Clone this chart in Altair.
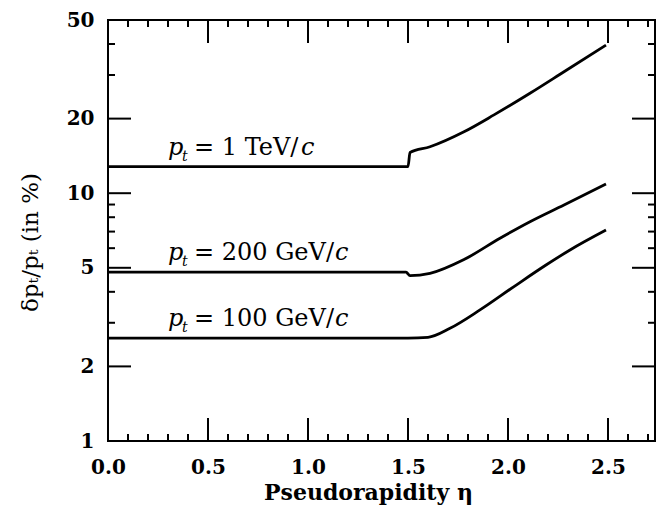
import altair as alt
import pandas as pd

# ---- data ----
eta_1tev = [0.0, 1.50, 1.51, 1.61, 1.78, 1.93, 2.11, 2.28, 2.49]
val_1tev = [12.8, 12.8, 14.6, 15.4, 17.7, 20.7, 25.3, 30.9, 39.6]
eta_200 = [0.0, 1.49, 1.51, 1.61, 1.78, 1.96, 2.11, 2.28, 2.49]
val_200 = [4.8, 4.8, 4.65, 4.75, 5.4, 6.58, 7.67, 8.96, 10.9]
eta_100 = [0.0, 1.50, 1.60, 1.71, 1.86, 2.03, 2.19, 2.31, 2.49]
val_100 = [2.6, 2.6, 2.62, 2.85, 3.38, 4.2, 5.13, 5.9, 7.1]

series_names = ["1 TeV", "200 GeV", "100 GeV"]
label_eta = [0.30, 0.30, 0.30]
label_val = [12.8, 4.8, 2.6]
label_mid = ["= 1 TeV/", "= 200 GeV/", "= 100 GeV/"]

x_labels = [0.0, 0.5, 1.0, 1.5, 2.0, 2.5]
x_major = [0.5, 1.0, 1.5, 2.0, 2.5]
x_minor = [0.1, 0.2, 0.3, 0.4, 0.6, 0.7, 0.8, 0.9, 1.1, 1.2, 1.3, 1.4,
           1.6, 1.7, 1.8, 1.9, 2.1, 2.2, 2.3, 2.4, 2.6, 2.7]
y_labels = [1, 2, 5, 10, 20, 50]
y_major = [2, 5, 10, 20]
y_minor = [3, 4, 6, 7, 8, 9, 30, 40]

# ---- build tables ----
rows = []
for name, xs_, vs_ in zip(series_names, [eta_1tev, eta_200, eta_100],
                          [val_1tev, val_200, val_100]):
    for i, (e, v) in enumerate(zip(xs_, vs_)):
        rows.append({"series": name, "idx": i, "eta": e, "val": v})
curves = pd.DataFrame(rows)
labels = pd.DataFrame({"series": series_names, "eta": label_eta,
                       "val": label_val, "mid": label_mid})

W, H = 547, 421
FONT = "DejaVu Serif"
xs = alt.Scale(domain=[0, 2.735], nice=False, zero=False)
ys = alt.Scale(type="log", domain=[1, 50], nice=False)

X_AXIS = alt.Axis(
    values=x_labels, format=".1f", ticks=False, domain=False, grid=False,
    labelFlush=False, labelFont=FONT, labelFontWeight="bold",
    labelFontSize=20, labelColor="black", labelPadding=16,
    title="Pseudorapidity  η", titleFont=FONT, titleFontWeight="bold",
    titleFontSize=22, titleColor="black", titlePadding=5, titleX=260)
Y_AXIS = alt.Axis(
    values=y_labels, format="d", ticks=False, domain=False, grid=False,
    labelFlush=False, labelFont=FONT, labelFontWeight="bold",
    labelFontSize=20, labelColor="black", labelPadding=14,
    title="δpₜ/pₜ  (in %)", titleFont=FONT, titleFontWeight="normal",
    titleFontSize=23, titleColor="black", titlePadding=24, titleY=222)

lines = alt.Chart(curves).mark_line(
    color="black", strokeWidth=2.8, interpolate="monotone"
).encode(
    x=alt.X("eta:Q", scale=xs, axis=X_AXIS),
    y=alt.Y("val:Q", scale=ys, axis=Y_AXIS),
    detail="series:N",
    order="idx:Q",
)


def xticks(vals, length):
    d = pd.DataFrame({"eta": vals})
    bot = alt.Chart(d).mark_rule(color="black", strokeWidth=2).encode(
        x=alt.X("eta:Q", scale=xs, axis=X_AXIS),
        y=alt.value(H), y2=alt.value(H - length))
    top = alt.Chart(d).mark_rule(color="black", strokeWidth=2).encode(
        x=alt.X("eta:Q", scale=xs, axis=X_AXIS),
        y=alt.value(0), y2=alt.value(length))
    return [bot, top]


def yticks(vals, length):
    d = pd.DataFrame({"val": vals})
    left = alt.Chart(d).mark_rule(color="black", strokeWidth=2).encode(
        y=alt.Y("val:Q", scale=ys, axis=Y_AXIS),
        x=alt.value(0), x2=alt.value(length))
    right = alt.Chart(d).mark_rule(color="black", strokeWidth=2).encode(
        y=alt.Y("val:Q", scale=ys, axis=Y_AXIS),
        x=alt.value(W), x2=alt.value(W - length))
    return [left, right]


tick_layers = (xticks(x_major, 23) + xticks(x_minor, 7)
               + yticks(y_major, 23) + yticks(y_minor, 7))

lab = alt.Chart(labels)
enc = dict(x=alt.X("eta:Q", scale=xs, axis=X_AXIS),
           y=alt.Y("val:Q", scale=ys, axis=Y_AXIS))
FS = 24
p_txt = lab.mark_text(font=FONT, fontStyle="italic", fontSize=FS, align="left",
                      baseline="alphabetic", dx=0, dy=-12, color="black"
                      ).encode(text=alt.value("p"), **enc)
t_txt = lab.mark_text(font=FONT, fontStyle="italic", fontSize=14, align="left",
                      baseline="alphabetic", dx=14, dy=-6, color="black"
                      ).encode(text=alt.value("t"), **enc)
mid_txt = lab.mark_text(font=FONT, fontSize=FS, align="left",
                        baseline="alphabetic", dx=26, dy=-12, color="black"
                        ).encode(text="mid:N", **enc)
c1_txt = lab.transform_filter(alt.datum.series == "1 TeV").mark_text(
    font=FONT, fontStyle="italic", fontSize=FS, align="left",
    baseline="alphabetic", dx=133, dy=-12, color="black"
).encode(text=alt.value("c"), **enc)
c2_txt = lab.transform_filter(alt.datum.series != "1 TeV").mark_text(
    font=FONT, fontStyle="italic", fontSize=FS, align="left",
    baseline="alphabetic", dx=167, dy=-12, color="black"
).encode(text=alt.value("c"), **enc)

chart = alt.layer(
    lines, *tick_layers, p_txt, t_txt, mid_txt, c1_txt, c2_txt
).properties(
    width=W, height=H,
    autosize=alt.AutoSizeParams(type="none"),
    padding={"left": 108, "top": 20, "right": 3, "bottom": 74},
).configure_view(stroke="black", strokeWidth=2)

chart.save("out.html", embed_options={"renderer": "svg", "actions": False})
